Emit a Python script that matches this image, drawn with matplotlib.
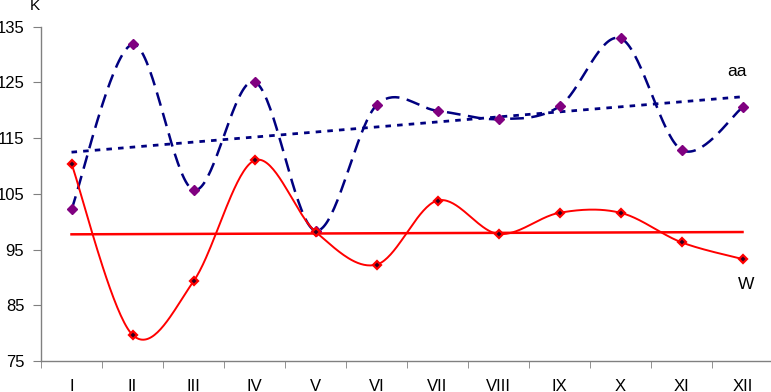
import numpy as np
import matplotlib.pyplot as plt

plt.rcParams['font.family'] = ['Liberation Sans', 'DejaVu Sans']

months = ['I', 'II', 'III', 'IV', 'V', 'VI', 'VII', 'VIII', 'IX', 'X', 'XI', 'XII']
aa = [102.2, 131.8, 105.7, 125.1, 98.4, 120.9, 119.9, 118.4, 120.7, 132.9, 112.9, 120.5]
w = [110.4, 79.7, 89.3, 111.0, 98.2, 92.3, 103.8, 97.8, 101.6, 101.6, 96.3, 93.3]


def smooth(x, y, n=40):
    # сглаживание как в Excel (Catmull-Rom через кривые Безье)
    x = np.asarray(x, float)
    y = np.asarray(y, float)
    px = np.concatenate([[x[0]], x, [x[-1]]])
    py = np.concatenate([[y[0]], y, [y[-1]]])
    t = np.linspace(0, 1, n)[:, None]
    xs, ys = [], []
    for i in range(1, len(x)):
        p0 = np.array([px[i], py[i]])
        p3 = np.array([px[i + 1], py[i + 1]])
        b1 = p0 + (np.array([px[i + 1], py[i + 1]]) - np.array([px[i - 1], py[i - 1]])) / 6
        b2 = p3 - (np.array([px[i + 2], py[i + 2]]) - np.array([px[i], py[i]])) / 6
        c = ((1 - t) ** 3) * p0 + 3 * ((1 - t) ** 2) * t * b1 + 3 * (1 - t) * t ** 2 * b2 + t ** 3 * p3
        xs.append(c[:, 0])
        ys.append(c[:, 1])
    return np.concatenate(xs), np.concatenate(ys)


x = np.arange(1, len(months) + 1)

fig = plt.figure(figsize=(7.71, 3.92), dpi=100)
ax = fig.add_axes([0.0532, 0.079, 0.9494, 0.853])

# тренды
k1 = np.polyfit(x, aa, 1)
k2 = np.polyfit(x, w, 1)
ax.plot(x, np.polyval(k1, x), color='#000080', lw=2, linestyle=(0, (2, 2.2)))
ax.plot(x, np.polyval(k2, x), color='#ff0000', lw=1.8)

sx, sy = smooth(x, aa)
ax.plot(sx, sy, color='#000080', lw=1.8, linestyle=(0, (5.5, 3)))
ax.plot(x, aa, linestyle='none', marker='D', ms=5.5, mfc='#800080', mec='#800080')

sx, sy = smooth(x, w)
ax.plot(sx, sy, color='#ff0000', lw=1.4)
ax.plot(x, w, linestyle='none', marker='D', ms=3.6, mfc='#300020', mec='#ff0000', mew=1.6)

ax.set_xlim(0.5, 12.5)
ax.set_ylim(75, 135)
ax.set_yticks(np.arange(75, 136, 10))
ax.set_xticks(x)
ax.set_xticklabels(months)
ax.set_xticks(np.arange(0.5, 12.6, 1), minor=True)
ax.tick_params(axis='x', which='major', length=0, pad=13, labelsize=12)
ax.tick_params(axis='x', which='minor', length=5, color='#808080', direction='out')
ax.tick_params(axis='y', length=6, color='#808080', pad=6, labelsize=12)

for s in ['top', 'right']:
    ax.spines[s].set_visible(False)
for s in ['left', 'bottom']:
    ax.spines[s].set_color('#808080')
    ax.spines[s].set_linewidth(1)

fig.text(35 / 771, 1 - 6 / 392, 'K', fontsize=11, ha='center', va='center')
ax.text(11.91, 126.9, 'aa', fontsize=12.5, ha='center', va='center')
ax.text(12.06, 88.8, 'W', fontsize=12.5, ha='center', va='center')

fig.savefig('out.png', dpi=100)
